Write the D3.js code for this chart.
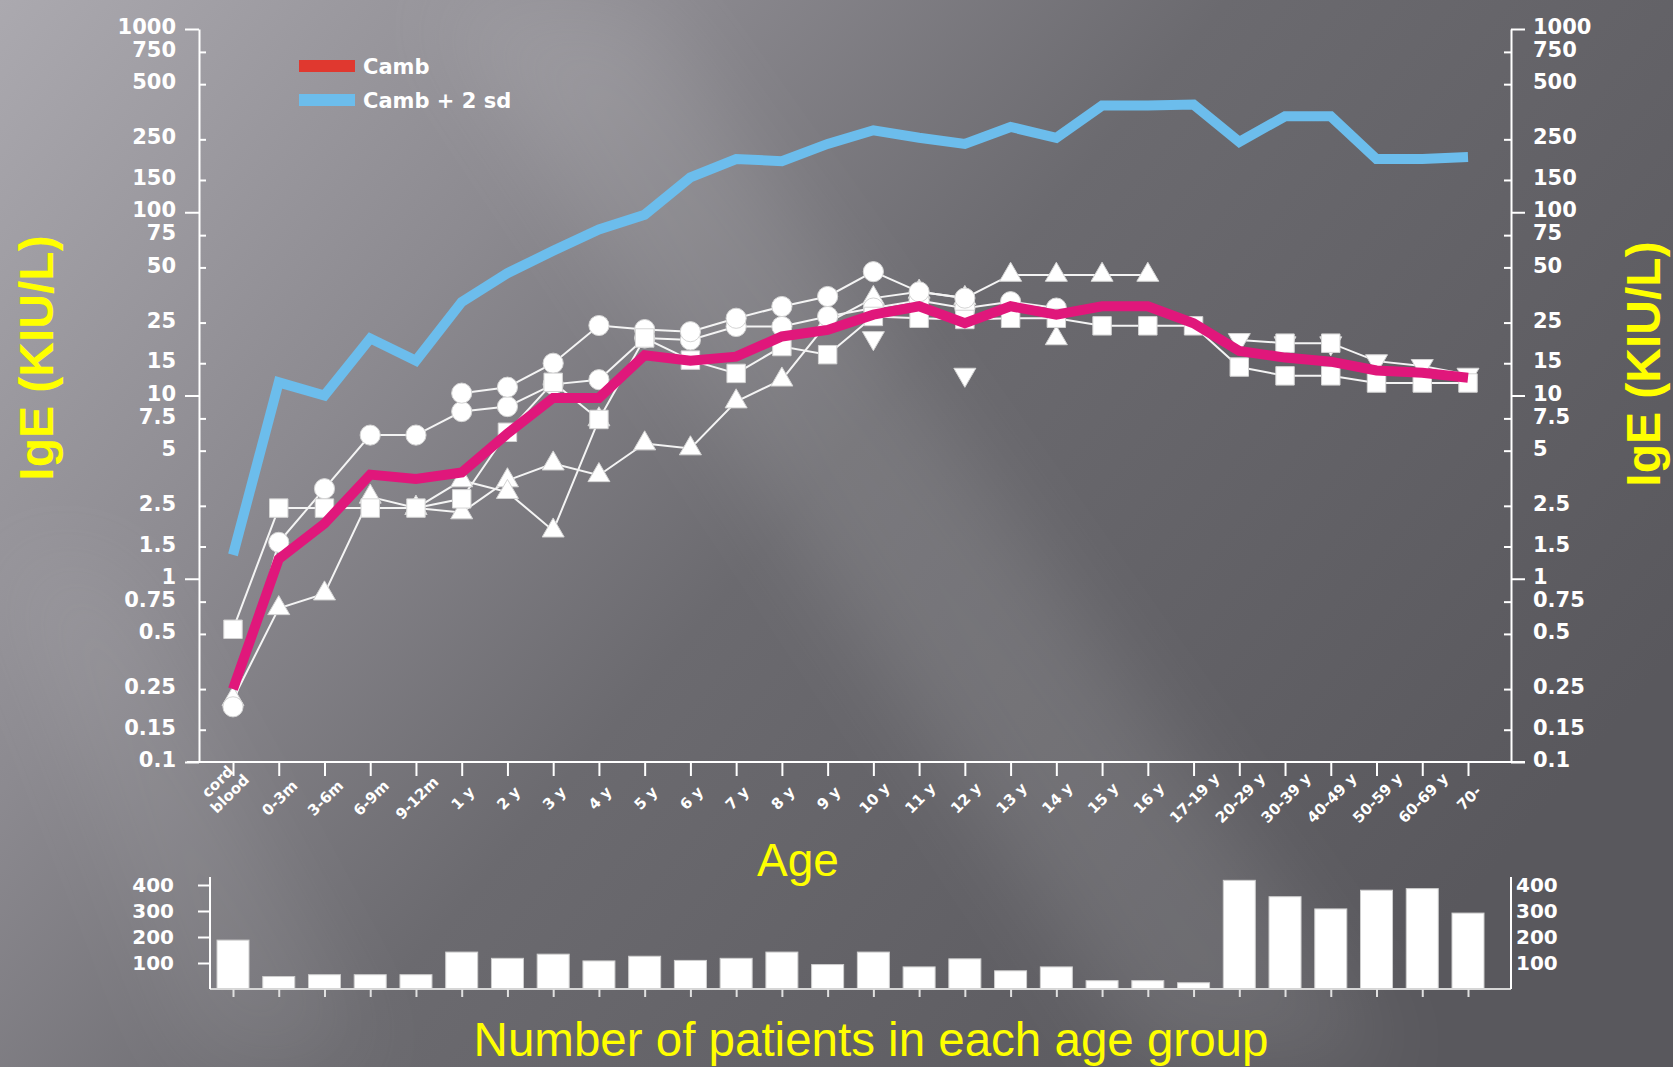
<!DOCTYPE html>
<html>
<head>
<meta charset="utf-8">
<script src="https://cdn.jsdelivr.net/npm/d3@7"></script>
<style>
html, body { margin: 0; padding: 0; background: #6e6d72; overflow: hidden; }
svg { display: block; }
.num text { font-family: "DejaVu Sans", sans-serif; font-weight: bold; fill: #fff; }
</style>
</head>
<body>
<svg id="chart" width="1673" height="1067"></svg>
<script>

// Age groups (x categories)
var ageGroups = ['cord blood', '0-3m', '3-6m', '6-9m', '9-12m', '1 y', '2 y', '3 y', '4 y', '5 y',
	'6 y', '7 y', '8 y', '9 y', '10 y', '11 y', '12 y', '13 y', '14 y', '15 y', '16 y',
	'17-19 y', '20-29 y', '30-39 y', '40-49 y', '50-59 y', '60-69 y', '70-'];

// Cambridge data (KIU/L)
var cambMean = [0.25, 1.28, 2.0, 3.7, 3.5, 3.8, 6.2, 9.7, 9.7, 16.6, 15.5, 16.3, 21, 22.8,
	27.6, 30.7, 24.8, 30.7, 27.6, 30.7, 30.7, 24.8, 17.5, 16.1, 15.3, 13.7, 13.3, 12.5];
var cambPlus2sd = [1.35, 11.8, 10, 20.5, 15.5, 32.4, 46.5, 61.6, 80.5, 97, 155, 195, 190, 236,
	280, 255, 236, 292, 255, 382, 382, 387, 242, 334, 334, 195, 195, 200];

// Other studies (white markers)
var N = null;
var circlesA = [0.2, 1.58, 3.1, 6.08, 6.08, 8.17, 8.7, 11.5, 12.2, 20.6, 20.1, 23.8, 23.8, 27,
	30, 33, 29.9, 32.5, 30, N, N, N, N, N, N, N, N, N];
var circlesB = [N, N, N, N, N, 10.3, 11.1, 15.0, 24.1, 22.9, 22.3, 26.4, 30.6, 34.7,
	47.4, 36.8, 34, N, N, N, N, N, N, N, N, N, N, N];
var squaresA = [0.53, 2.43, 2.43, 2.43, 2.43, 2.73, 6.3, 11.8, 7.4, 20.6, 15.6, 13.2, 18.5, 16.7,
	27, 26.4, 26, 26.4, 26.4, 24, 24, 24, 14.3, 12.8, 12.8, 11.7, 11.7, 11.7];
var squaresB = [N, N, N, N, N, N, N, N, N, N, N, N, N, N,
	N, N, N, N, N, N, N, N, N, 19.3, 19.3, N, N, N];
var trianglesA = [0.22, 0.69, 0.83, 2.8, 2.43, 2.3, 3.44, 4.25, 3.67, 5.47, 5.14, 9.27, 12.2, 25,
	34, 36.8, 34, 45.5, 45.5, 45.5, 45.5, N, N, N, N, N, N, N];
var trianglesB = [N, N, N, N, 2.43, 3.44, 2.97, 1.83, 7.4, N, N, N, N, N,
	N, N, N, N, N, N, N, N, N, N, N, N, N, N];
var trianglesLoose = [N, N, N, N, N, N, N, N, N, N, N, N, N, N,
	N, N, N, N, 20.5, N, N, N, N, N, N, N, N, N];
var downAdult = [N, N, N, N, N, N, N, N, N, N, N, N, N, N,
	N, N, N, N, N, N, N, N, 20.1, 19.3, 19.3, 15.4, 14.5, 13];
var downLoose = [N, N, N, N, N, N, N, N, N, N, N, N, N, N,
	20.6, N, 13, N, N, N, N, N, N, N, N, N, N, N];

// Number of patients in each age group
var patients = [188, 48, 55, 55, 55, 142, 118, 134, 108, 126, 110, 118, 142, 94,
	142, 85, 116, 70, 85, 32, 32, 24, 418, 355, 308, 380, 386, 292];

// Axis ticks
var yTicks = [1000, 750, 500, 250, 150, 100, 75, 50, 25, 15, 10, 7.5, 5, 2.5, 1.5, 1, 0.75, 0.5, 0.25, 0.15, 0.1];
var yMajor = [1000, 100, 10, 1, 0.1];
var barTicks = [100, 200, 300, 400];

var legendItems = ['Camb', 'Camb + 2 sd'];

// ---------------------------------------------------------------

var svg = d3.select('#chart'),
	defs = svg.append('defs');

var x = d3.scalePoint().domain(ageGroups).range([233, 1468]),
	y = d3.scaleLog().domain([0.1, 1000]).range([762, 29]),
	yBar = d3.scaleLinear().domain([0, 400]).range([989, 885]);

// Background

var bg = defs.append('linearGradient')
	.attr('id', 'bg')
	.attr('gradientUnits', 'userSpaceOnUse')
	.attr('x1', 0).attr('y1', 0).attr('x2', 1300).attr('y2', 1100);
[[0, '#aba9af'], [0.3, '#8c8a90'], [0.55, '#6b6a6f'], [1, '#59585d']].forEach(function(s) {
	bg.append('stop').attr('offset', s[0]).attr('stop-color', s[1]);
});
defs.append('filter').attr('id', 'blur')
	.attr('x', '-50%').attr('y', '-50%').attr('width', '200%').attr('height', '200%')
	.append('feGaussianBlur').attr('stdDeviation', 45);

svg.append('rect').attr('width', 1673).attr('height', 1067).attr('fill', 'url(#bg)');
svg.append('polygon')
	.attr('points', '430,0 640,0 1400,1067 1150,1067')
	.attr('fill', '#fff').attr('opacity', 0.1)
	.attr('filter', 'url(#blur)');
svg.append('polygon')
	.attr('points', '0,560 110,560 380,1067 200,1067')
	.attr('fill', '#fff').attr('opacity', 0.07)
	.attr('filter', 'url(#blur)');

// Axes helpers

function whiteAxis(g) {
	g.selectAll('line, path').attr('stroke', '#fff').attr('stroke-width', 2);
}
function fmt(v) { return String(v); }

var yMinor = yTicks.filter(function(v) { return yMajor.indexOf(v) < 0; });

// Left IgE axis
var leftAx = svg.append('g').attr('transform', 'translate(199,0)');
leftAx.append('g').call(d3.axisLeft(y).tickValues(yMajor).tickSize(14).tickSizeOuter(0).tickFormat(''));
leftAx.append('g').call(d3.axisRight(y).tickValues(yMinor).tickSize(7).tickFormat(''))
	.select('.domain').remove();
leftAx.append('g').attr('class', 'num')
	.call(d3.axisLeft(y).tickValues(yTicks).tickSize(0).tickPadding(23).tickFormat(fmt))
	.call(function(g) { g.select('.domain').remove(); });
leftAx.call(whiteAxis);

// Right IgE axis
var rightAx = svg.append('g').attr('transform', 'translate(1511,0)');
rightAx.append('g').call(d3.axisRight(y).tickValues(yMajor).tickSize(14).tickSizeOuter(0).tickFormat(''));
rightAx.append('g').call(d3.axisLeft(y).tickValues(yMinor).tickSize(7).tickFormat(''))
	.select('.domain').remove();
rightAx.append('g').attr('class', 'num')
	.call(d3.axisRight(y).tickValues(yTicks).tickSize(0).tickPadding(22).tickFormat(fmt))
	.call(function(g) { g.select('.domain').remove(); });
rightAx.call(whiteAxis);

svg.selectAll('.num text')
	.attr('font-size', 21)
	.attr('font-family', '"DejaVu Sans", sans-serif')
	.attr('dy', '0.22em');

// Age axis
svg.append('line')
	.attr('x1', 187).attr('x2', 1525).attr('y1', 762).attr('y2', 762)
	.attr('stroke', '#fff').attr('stroke-width', 2);
svg.append('g').attr('transform', 'translate(0,762)')
	.call(d3.axisBottom(x).tickSize(14).tickFormat(''))
	.call(function(g) { g.select('.domain').remove(); })
	.call(whiteAxis);

var xLabels = svg.append('g').selectAll('text')
	.data(ageGroups)
	.enter()
	.append('text')
	.attr('transform', function(d) { return 'translate(' + (x(d) + 1) + ',798) rotate(-45)'; })
	.attr('text-anchor', 'middle')
	.attr('font-family', '"DejaVu Sans", sans-serif')
	.attr('font-weight', 'bold')
	.attr('font-size', 15)
	.attr('fill', '#fff');
xLabels.each(function(d) {
	var lines = d === 'cord blood' ? ['cord', 'blood'] : [d],
		t = d3.select(this);
	lines.forEach(function(l, i) {
		t.append('tspan').attr('x', 0).attr('dy', i === 0 ? (lines.length > 1 ? '-1.2em' : '0.35em') : '1.15em').text(l);
	});
});

// White marker series

var whiteSeries = [
	{values: trianglesA, shape: 'up', joined: true},
	{values: trianglesB, shape: 'up', joined: true},
	{values: trianglesLoose, shape: 'up', joined: false},
	{values: downAdult, shape: 'down', joined: true},
	{values: downLoose, shape: 'down', joined: false},
	{values: circlesA, shape: 'circle', joined: true},
	{values: circlesB, shape: 'circle', joined: true},
	{values: squaresA, shape: 'square', joined: true},
	{values: squaresB, shape: 'square', joined: false}
];

function points(vals) {
	return vals.map(function(v, i) { return {v: v, c: ageGroups[i]}; })
		.filter(function(d) { return d.v !== null; });
}

var whiteLine = d3.line()
	.x(function(d) { return x(d.c); })
	.y(function(d) { return y(d.v); });

var markG = svg.append('g');
whiteSeries.filter(function(s) { return s.joined; }).forEach(function(s) {
	markG.append('path')
		.datum(points(s.values))
		.attr('d', whiteLine)
		.attr('fill', 'none')
		.attr('stroke', '#f4f4f4')
		.attr('stroke-width', 2);
});

var symbols = {
	up: d3.symbol().type(d3.symbolTriangle).size(210),
	down: d3.symbol().type(d3.symbolTriangle).size(210),
	circle: d3.symbol().type(d3.symbolCircle).size(320),
	square: d3.symbol().type(d3.symbolSquare).size(340)
};

whiteSeries.forEach(function(s) {
	markG.append('g').selectAll('path')
		.data(points(s.values))
		.enter()
		.append('path')
		.attr('d', symbols[s.shape]())
		.attr('transform', function(d) {
			return 'translate(' + x(d.c) + ',' + y(d.v) + ')' + (s.shape === 'down' ? ' rotate(180)' : '');
		})
		.attr('fill', '#fff')
		.attr('stroke', '#d4d4d4')
		.attr('stroke-width', 1);
});

// Cambridge lines

var colLine = d3.line()
	.x(function(d, i) { return x(ageGroups[i]); })
	.y(function(d) { return y(d); });

svg.append('path')
	.datum(cambPlus2sd)
	.attr('d', colLine)
	.attr('fill', 'none')
	.attr('stroke', '#6cbdec')
	.attr('stroke-width', 10)
	.attr('stroke-linejoin', 'miter');

svg.append('path')
	.datum(cambMean)
	.attr('d', colLine)
	.attr('fill', 'none')
	.attr('stroke', '#e0177b')
	.attr('stroke-width', 10)
	.attr('stroke-linejoin', 'miter');

// Legend

var legend = svg.append('g').selectAll('g')
	.data(legendItems)
	.enter()
	.append('g')
	.attr('transform', function(d, i) { return 'translate(299,' + (66 + i * 34) + ')'; });
legend.append('rect')
	.attr('y', -6).attr('width', 56).attr('height', 12)
	.attr('fill', function(d, i) { return i === 0 ? '#e0382f' : '#6cbdec'; });
legend.append('text')
	.attr('x', 64).attr('y', 8)
	.attr('font-family', '"DejaVu Sans", sans-serif')
	.attr('font-weight', 'bold')
	.attr('font-size', 21)
	.attr('fill', '#fff')
	.text(function(d) { return d; });

// Titles

function yellowText(tx, ty, rot, size, weight, str) {
	svg.append('text')
		.attr('transform', 'translate(' + tx + ',' + ty + ')' + (rot ? ' rotate(' + rot + ')' : ''))
		.attr('text-anchor', 'middle')
		.attr('font-family', '"Liberation Sans", Arial, sans-serif')
		.attr('font-weight', weight)
		.attr('font-size', size)
		.attr('fill', '#ffff00')
		.text(str);
}
yellowText(53, 358, -90, 48, 'bold', 'IgE (KIU/L)');
yellowText(1660, 364, -90, 48, 'bold', 'IgE (KIU/L)');
yellowText(798, 876, 0, 46, 'normal', 'Age');
yellowText(871, 1056, 0, 47.5, 'normal', 'Number of patients in each age group');

// Patients bar chart

svg.append('g').selectAll('rect')
	.data(patients)
	.enter()
	.append('rect')
	.attr('x', function(d, i) { return x(ageGroups[i]) - 16; })
	.attr('width', 32)
	.attr('y', function(d) { return yBar(d); })
	.attr('height', function(d) { return yBar(0) - yBar(d); })
	.attr('fill', '#fff')
	.attr('stroke', '#cfcfcf')
	.attr('stroke-width', 1);

svg.append('line')
	.attr('x1', 210).attr('x2', 1511).attr('y1', 989).attr('y2', 989)
	.attr('stroke', '#d6d6d6').attr('stroke-width', 2);
svg.append('g').attr('transform', 'translate(0,989)')
	.call(d3.axisBottom(x).tickSize(8).tickFormat(''))
	.call(function(g) { g.select('.domain').remove(); })
	.call(function(g) { g.selectAll('line').attr('stroke', '#e0e0e0').attr('stroke-width', 2); });

[[210, 'left'], [1511, 'right']].forEach(function(a) {
	var g = svg.append('g').attr('transform', 'translate(' + a[0] + ',0)');
	g.append('line').attr('y1', 877).attr('y2', 989).attr('stroke', '#fff').attr('stroke-width', 2);
	if (a[1] === 'left') {
		g.append('g').call(d3.axisLeft(yBar).tickValues(barTicks).tickSize(12).tickFormat(''))
			.call(function(s) { s.select('.domain').remove(); })
			.call(whiteAxis);
		g.append('g').attr('class', 'num')
			.call(d3.axisLeft(yBar).tickValues(barTicks).tickSize(0).tickPadding(36).tickFormat(fmt))
			.call(function(s) { s.select('.domain').remove(); });
	} else {
		g.append('g').attr('class', 'num')
			.call(d3.axisRight(yBar).tickValues(barTicks).tickSize(0).tickPadding(5).tickFormat(fmt))
			.call(function(s) { s.select('.domain').remove(); });
	}
	g.selectAll('.num text')
		.attr('font-size', 20)
		.attr('font-family', '"DejaVu Sans", sans-serif')
		.attr('dy', '0.3em');
});

</script>
</body>
</html>
